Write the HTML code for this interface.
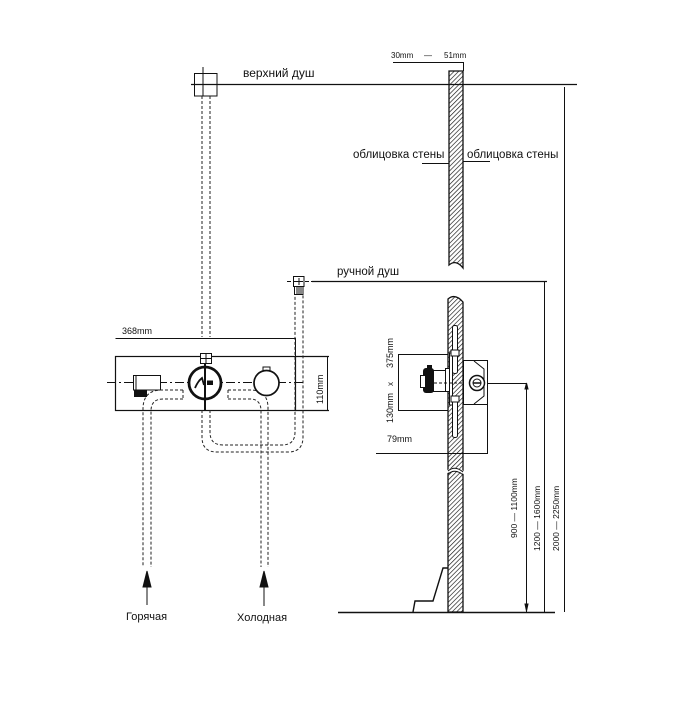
<!DOCTYPE html>
<html><head><meta charset="utf-8">
<style>
html,body{margin:0;padding:0;background:#fff;}
svg{display:block;}
text{font-family:"Liberation Sans",Arial,sans-serif;fill:#111;}
</style></head>
<body>
<svg width="681" height="725" viewBox="0 0 681 725" xmlns="http://www.w3.org/2000/svg">
<defs>
<pattern id="h" patternUnits="userSpaceOnUse" width="3.2" height="3.2" patternTransform="rotate(45)">
<line x1="0" y1="0" x2="0" y2="3.2" stroke="#111" stroke-width="1.3"/>
</pattern>
</defs>
<g fill="none" stroke="#111" stroke-width="1">
<!-- top shower -->
<rect x="194.5" y="73.5" width="22.5" height="22.5"/>
<line x1="203" y1="67" x2="203" y2="96"/>
<line x1="191" y1="84.5" x2="577" y2="84.5" stroke-width="1.3"/>
<g stroke-dasharray="3 2" stroke="#222">
<line x1="202" y1="96" x2="202" y2="337"/>
<line x1="210" y1="96" x2="210" y2="337"/>
</g>

<!-- dimension 30-51 -->
<line x1="393" y1="62.5" x2="463" y2="62.5"/>
<line x1="463.5" y1="62" x2="463.5" y2="71"/>

<!-- wall upper -->
<path d="M449,71 L463,71 L463,268 Q456,259 449,265 Z" fill="url(#h)" stroke="#111" stroke-width="1.3"/>
<!-- wall lower -->
<path d="M448,299 Q455,293 463,302 L463,612 L448,612 Z" fill="url(#h)" stroke="#111" stroke-width="1.3"/>
<path d="M446,471 Q455,464 465,472 L465,475 Q455,467 446,474 Z" fill="#fff" stroke="none"/>
<path d="M448,471 Q455,465 463,472" />
<path d="M448,474 Q455,468 463,475" />

<!-- leaders -->
<line x1="422" y1="163.5" x2="449" y2="163.5"/>
<line x1="463" y1="161.5" x2="490" y2="161.5"/>

<!-- right dimension verticals -->
<line x1="564.5" y1="87" x2="564.5" y2="612"/>
<line x1="544.5" y1="282" x2="544.5" y2="612"/>
<line x1="526.5" y1="383" x2="526.5" y2="612"/>
<path d="M526.5,383 L525,389 L528,389 Z" fill="#111"/>
<path d="M526.5,611 L525,604 L528,604 Z" fill="#111"/>

<!-- hand shower -->
<line x1="287" y1="281.5" x2="312" y2="281.5" stroke-dasharray="4 2"/>
<line x1="312" y1="281.5" x2="547" y2="281.5" stroke-width="1.2"/>
<rect x="293.5" y="276.5" width="10.5" height="10"/>
<line x1="299" y1="278" x2="299" y2="285"/>
<line x1="295" y1="281.5" x2="302" y2="281.5"/>
<rect x="294.5" y="286.5" width="8.5" height="8"/>
<line x1="297" y1="287" x2="297" y2="294"/>
<line x1="299" y1="287" x2="299" y2="294"/>
<line x1="301" y1="287" x2="301" y2="294"/>

<!-- panel -->
<line x1="115.5" y1="338.5" x2="295.5" y2="338.5"/>
<rect x="115.5" y="356.5" width="180" height="54" stroke-width="1.2"/>
<line x1="295" y1="356.5" x2="329" y2="356.5" stroke-width="1.2"/>
<line x1="295" y1="410.5" x2="329" y2="410.5" stroke-width="1.2"/>
<line x1="295.5" y1="338" x2="295.5" y2="357"/>
<line x1="327.5" y1="356" x2="327.5" y2="411"/>
<line x1="107" y1="382.5" x2="304" y2="382.5" stroke-dasharray="9 3 2 3"/>

<!-- left unit -->
<rect x="133.5" y="375.5" width="27" height="14.5" fill="#fff"/>
<line x1="136" y1="376" x2="136" y2="390"/>
<rect x="134" y="390" width="13" height="7" fill="#111" stroke="none"/>

<!-- pipes dashed -->
<g stroke-dasharray="3 2" stroke="#222">
<path d="M183,390 L162,390 Q143,390 143,409 L143,567"/>
<path d="M183,399 L163,399 Q151,399 151,411 L151,567"/>
<path d="M183,390 L183,399"/>
<path d="M228,390 L250,390 Q268,390 268,408 L268,567"/>
<path d="M228,399 L250,399 Q261,399 261,411 L261,567"/>
<path d="M228,390 L228,399"/>
<path d="M202,410 L202,437 Q202,452 217,452 L288,452 Q303,452 303,437 L303,295"/>
<path d="M210,410 L210,432 Q210,445 223,445 L282,445 Q295,445 295,432 L295,295"/>
</g>

<!-- main valve -->
<rect x="200.5" y="353.5" width="11" height="10" fill="#fff"/>
<line x1="206" y1="353" x2="206" y2="364"/>
<line x1="200" y1="358.5" x2="212" y2="358.5"/>
<circle cx="205" cy="383" r="16" fill="#fff" stroke-width="2.8"/>
<line x1="205" y1="363" x2="205" y2="410" stroke-width="2"/>
<path d="M195,388 Q198,381 202,378 L204,385" stroke-width="1.8"/>
<rect x="207" y="380.5" width="6" height="4.5" fill="#111" stroke="none"/>
<!-- right knob -->
<rect x="263" y="367" width="7" height="4" fill="#fff"/>
<circle cx="266.5" cy="383" r="12.5" fill="#fff" stroke-width="1.7"/>

<!-- arrows -->
<line x1="147" y1="580" x2="147" y2="605"/>
<path d="M147,571 L143,587 L151,587 Z" fill="#111"/>
<line x1="264" y1="580" x2="264" y2="606"/>
<path d="M264,571 L260,587 L268,587 Z" fill="#111"/>

<!-- side valve -->
<line x1="398" y1="354.5" x2="448" y2="354.5"/>
<line x1="398.5" y1="354" x2="398.5" y2="411"/>
<line x1="398" y1="410.5" x2="448" y2="410.5"/>
<line x1="376" y1="453.5" x2="488" y2="453.5"/>
<line x1="487.5" y1="361" x2="487.5" y2="453"/>
<rect x="463.5" y="360.5" width="24" height="44" fill="#fff"/>
<path d="M474,361 L484,369 L484,396 L474,404"/>
<circle cx="477" cy="383" r="7.5" fill="#fff" stroke-width="1.5"/>
<circle cx="477" cy="383" r="4"/>
<line x1="473" y1="383" x2="481" y2="383" stroke-width="1.5"/>
<line x1="487" y1="383.5" x2="527" y2="383.5"/>
<!-- plates and bolts -->
<rect x="449.5" y="353" width="3" height="52" fill="#fff"/>
<rect x="452.5" y="325.5" width="5" height="48" rx="2" fill="#fff"/>
<rect x="452.5" y="396.5" width="5" height="41" rx="2" fill="#fff"/>
<rect x="451" y="350" width="8" height="6" fill="#fff"/>
<rect x="451" y="396" width="8" height="6" fill="#fff"/>
<rect x="445.5" y="368.5" width="4" height="23" fill="#fff"/>
<!-- handle -->
<rect x="433.5" y="370.5" width="12" height="21" fill="#fff"/>
<rect x="423" y="368" width="11" height="25" rx="3" fill="#111" stroke="none"/>
<rect x="427" y="365" width="5" height="4" fill="#111" stroke="none"/>
<rect x="420.5" y="375.5" width="5" height="12" fill="#fff"/>
<line x1="434" y1="383" x2="463" y2="383" stroke-dasharray="3 2"/>

<!-- floor and fixture -->
<line x1="338" y1="612.5" x2="555" y2="612.5" stroke-width="1.5"/>
<path d="M413,612 L415,601 L433,601 L443,568 L448,568" stroke-width="1.4"/>
</g>

<!-- texts -->
<text x="243" y="77" font-size="12">верхний душ</text>
<text x="391" y="58" font-size="8">30mm</text>
<text x="424" y="58" font-size="8">—</text>
<text x="444" y="58" font-size="8">51mm</text>
<text x="353" y="158" font-size="11.5">облицовка стены</text>
<text x="467" y="158" font-size="11.5">облицовка стены</text>
<text x="337" y="275" font-size="11.5">ручной душ</text>
<text x="122" y="334" font-size="9">368mm</text>
<text transform="translate(323,404) rotate(-90)" font-size="9">110mm</text>
<text transform="translate(393,368) rotate(-90)" font-size="9">375mm</text>
<text transform="translate(393,386) rotate(-90)" font-size="8">x</text>
<text transform="translate(393,423) rotate(-90)" font-size="9">130mm</text>
<text x="387" y="442" font-size="9">79mm</text>
<text transform="translate(517,538) rotate(-90)" font-size="8.5">900 — 1100mm</text>
<text transform="translate(540,551) rotate(-90)" font-size="8.5">1200 — 1600mm</text>
<text transform="translate(559,551) rotate(-90)" font-size="8.5">2000 — 2250mm</text>
<text x="126" y="620" font-size="11">Горячая</text>
<text x="237" y="621" font-size="11">Холодная</text>
</svg>
</body></html>
